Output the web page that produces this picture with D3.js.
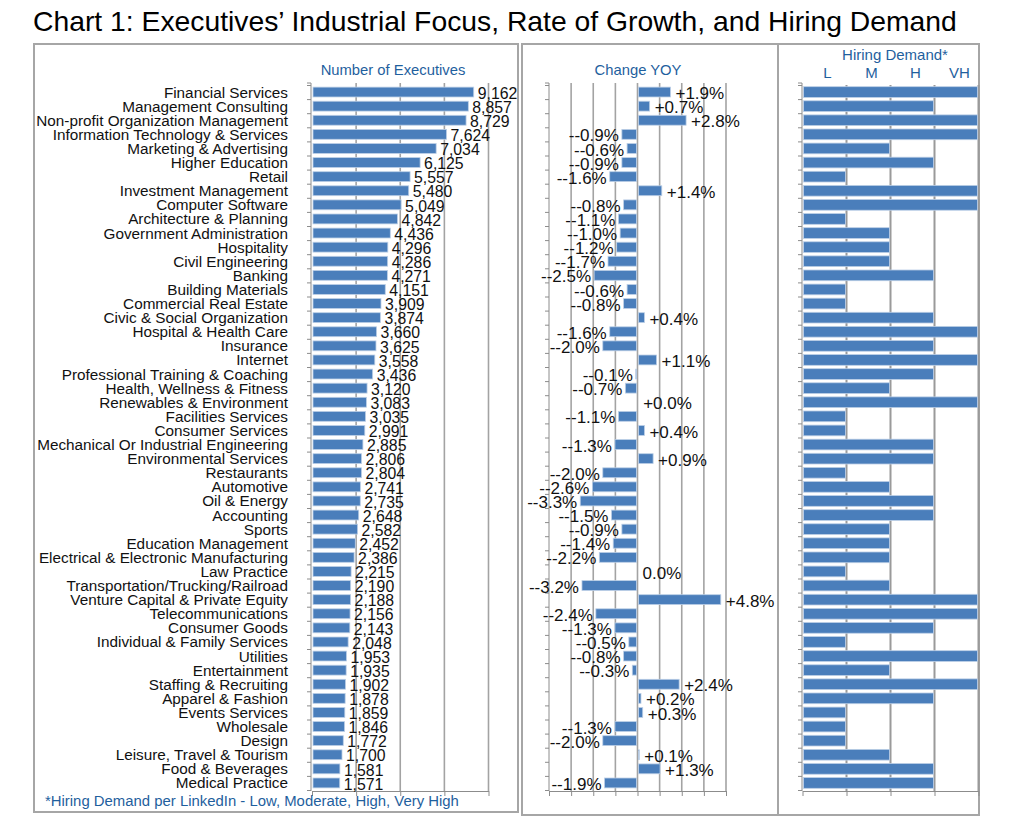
<!DOCTYPE html>
<html><head><meta charset="utf-8">
<script src="https://cdn.jsdelivr.net/npm/d3@7"></script>
<style>
body{margin:0;background:#fff}
text{font-family:"Liberation Sans",Arial,Helvetica,sans-serif}
</style>
</head><body>
<svg id="c" width="1024" height="823"></svg>
<script>
const industries = [
 "Financial Services","Management Consulting","Non-profit Organization Management","Information Technology & Services",
 "Marketing & Advertising","Higher Education","Retail","Investment Management","Computer Software","Architecture & Planning",
 "Government Administration","Hospitality","Civil Engineering","Banking","Building Materials","Commercial Real Estate",
 "Civic & Social Organization","Hospital & Health Care","Insurance","Internet","Professional Training & Coaching",
 "Health, Wellness & Fitness","Renewables & Environment","Facilities Services","Consumer Services",
 "Mechanical Or Industrial Engineering","Environmental Services","Restaurants","Automotive","Oil & Energy","Accounting",
 "Sports","Education Management","Electrical & Electronic Manufacturing","Law Practice","Transportation/Trucking/Railroad",
 "Venture Capital & Private Equity","Telecommunications","Consumer Goods","Individual & Family Services","Utilities",
 "Entertainment","Staffing & Recruiting","Apparel & Fashion","Events Services","Wholesale","Design",
 "Leisure, Travel & Tourism","Food & Beverages","Medical Practice"];
const executives = [9162,8857,8729,7624,7034,6125,5557,5480,5049,4842,4436,4296,4286,4271,4151,3909,3874,3660,3625,3558,
 3436,3120,3083,3035,2991,2885,2806,2804,2741,2735,2648,2582,2452,2386,2215,2190,2188,2156,2143,2048,1953,1935,1902,1878,
 1859,1846,1772,1700,1581,1571];
const changeYOY = [1.9,0.7,2.8,-0.9,-0.6,-0.9,-1.6,1.4,-0.8,-1.1,-1.0,-1.2,-1.7,-2.5,-0.6,-0.8,0.4,-1.6,-2.0,1.1,
 -0.1,-0.7,0.04,-1.1,0.4,-1.3,0.9,-2.0,-2.6,-3.3,-1.5,-0.9,-1.4,-2.2,0.0,-3.2,4.8,-2.4,-1.3,-0.5,-0.8,-0.3,2.4,0.2,
 0.3,-1.3,-2.0,0.1,1.3,-1.9];
const hiringDemand = ["VH","H","VH","VH","M","H","L","VH","VH","L","M","M","M","H","L","L","H","VH","H","VH",
 "H","M","VH","L","L","H","H","L","M","H","H","M","M","M","L","M","VH","VH","H","L","VH","M","VH","H","L","L","L","M","H","H"];
const demandLevels = ["L","M","H","VH"];
const execTicks = [0,2500,5000,7500,10000];
const changeDomain = [-5.1,5.1];

const svg = d3.select("#c");
const BLUE_TXT = "#1f5f9e", BAR = "#4a7ebb", BAR_STROKE = "#bccfe6", GRID = "#a3a3a3", AXIS = "#8c8c8c", BORDER = "#a6a6a6";

// title
const title = svg.append("text").attr("x",33).attr("y",31).attr("font-size",25).attr("fill","#000")
  .text("Chart 1: Executives\u2019 Industrial Focus, Rate of Growth, and Hiring Demand");
const tl = title.node().getComputedTextLength();
title.attr("font-size", 25*924/tl);

// panel borders
[[34,44,484,768],[522,44,256,771],[778,44,201,771]].forEach(([x,y,w,h])=>{
  svg.append("rect").attr("x",x).attr("y",y).attr("width",w).attr("height",h)
    .attr("fill","none").attr("stroke",BORDER).attr("stroke-width",2);
});

const TOP = 85, BOT = 790, AX_BOT = 791;
const yBand = d3.scaleBand().domain(industries).range([TOP,BOT]).padding(0);
const step = yBand.step();
const yIdx = d3.scaleLinear().domain([0,industries.length]).range([TOP,BOT]);

function leftAxis(x){
  const g = svg.append("g").attr("transform",`translate(${x},0)`)
    .call(d3.axisLeft(yIdx).tickValues(d3.range(industries.length+1)).tickSize(4).tickSizeOuter(4).tickFormat(""));
  g.select(".domain").attr("stroke",AXIS).attr("d",`M-4,${TOP-2}H0V${AX_BOT}`);
  g.selectAll(".tick line").attr("stroke",AXIS);
  return g;
}
function bottomAxis(scale, ticks){
  const g = svg.append("g").attr("transform",`translate(0,${AX_BOT})`)
    .call(d3.axisBottom(scale).tickValues(ticks).tickSize(5).tickSizeOuter(0).tickFormat(""));
  g.select(".domain").attr("stroke",AXIS);
  g.selectAll(".tick line").attr("stroke",AXIS);
}

// ---------- Panel 1 ----------
const x1 = d3.scaleLinear().domain([0,10000]).range([312,488.5]);
svg.append("g").selectAll("line").data(execTicks.slice(1)).join("line")
  .attr("x1",d=>x1(d)).attr("x2",d=>x1(d)).attr("y1",TOP-2).attr("y2",AX_BOT)
  .attr("stroke",GRID).attr("stroke-width",1.6);
bottomAxis(x1, execTicks);
svg.append("g").selectAll("rect").data(industries).join("rect")
  .attr("x",x1(0)+1).attr("y",d=>yBand(d)+step*0.15).attr("height",step*0.7)
  .attr("width",(d,i)=>x1(executives[i])-x1(0)-1)
  .attr("fill",BAR).attr("stroke",BAR_STROKE).attr("stroke-width",0.8);
leftAxis(311);
svg.append("g").selectAll("text").data(industries).join("text")
  .attr("x",288).attr("y",d=>yBand(d)+step/2).attr("dy","0.36em").attr("text-anchor","end")
  .attr("font-size",15.3).attr("fill","#111").text(d=>d);
svg.append("g").selectAll("text").data(industries).join("text")
  .attr("x",(d,i)=>x1(executives[i])+4).attr("y",d=>yBand(d)+step/2+1).attr("dy","0.36em")
  .attr("font-size",15.8).attr("fill","#111").text((d,i)=>d3.format(",")(executives[i]));
svg.append("text").attr("x",393).attr("y",75).attr("text-anchor","middle").attr("font-size",14.8)
  .attr("fill",BLUE_TXT).text("Number of Executives");
svg.append("text").attr("x",45).attr("y",806).attr("font-size",14.9)
  .attr("fill",BLUE_TXT).text("*Hiring Demand per LinkedIn - Low, Moderate, High, Very High");

// ---------- Panel 2 ----------
const x2 = d3.scaleLinear().domain(changeDomain).range([549,726]);
const chTicks = d3.range(-4,5).map(i=>i*changeDomain[1]/4);
svg.append("g").selectAll("line").data(chTicks.slice(1)).join("line")
  .attr("x1",d=>x2(d)).attr("x2",d=>x2(d)).attr("y1",TOP-2).attr("y2",AX_BOT)
  .attr("stroke",GRID).attr("stroke-width",1.6);
bottomAxis(x2, chTicks);
svg.append("g").selectAll("rect").data(industries).join("rect")
  .attr("x",(d,i)=>Math.min(x2(0),x2(changeYOY[i]))+ (changeYOY[i]>=0?1:0))
  .attr("y",d=>yBand(d)+step*0.15).attr("height",step*0.7)
  .attr("width",(d,i)=>Math.max(0,Math.abs(x2(changeYOY[i])-x2(0))-1))
  .attr("fill",BAR).attr("stroke",BAR_STROKE).attr("stroke-width",0.8);
leftAxis(549);
const fmtChange = v => v>0 ? "+"+v.toFixed(1)+"%" : v<0 ? "--"+(-v).toFixed(1)+"%" : "0.0%";
svg.append("g").selectAll("text").data(industries).join("text")
  .attr("x",(d,i)=>changeYOY[i]<0 ? x2(changeYOY[i])-3 : x2(changeYOY[i])+5)
  .attr("text-anchor",(d,i)=>changeYOY[i]<0?"end":"start")
  .attr("y",d=>yBand(d)+step/2+1).attr("dy","0.36em")
  .attr("font-size",17).attr("fill","#111").text((d,i)=>fmtChange(changeYOY[i]));
svg.append("text").attr("x",638).attr("y",75).attr("text-anchor","middle").attr("font-size",14.8)
  .attr("fill",BLUE_TXT).text("Change YOY");

// ---------- Panel 3 ----------
const x3 = d3.scaleLinear().domain([0,demandLevels.length]).range([802.5,978.5]);
const dTicks = d3.range(0,demandLevels.length+1);
svg.append("g").selectAll("line").data(dTicks.slice(1)).join("line")
  .attr("x1",d=>x3(d)).attr("x2",d=>x3(d)).attr("y1",TOP).attr("y2",AX_BOT)
  .attr("stroke","#9a9a9a").attr("stroke-width",2);
bottomAxis(x3, dTicks);
svg.append("g").selectAll("rect").data(industries).join("rect")
  .attr("x",x3(0)+1).attr("y",d=>yBand(d)+step*0.12).attr("height",step*0.76)
  .attr("width",(d,i)=>x3(demandLevels.indexOf(hiringDemand[i])+1)-x3(0)-2)
  .attr("fill",BAR).attr("stroke",BAR_STROKE).attr("stroke-width",0.8);
leftAxis(802);
svg.append("text").attr("x",895).attr("y",60).attr("text-anchor","middle").attr("font-size",15)
  .attr("fill",BLUE_TXT).text("Hiring Demand*");
svg.append("g").selectAll("text").data(demandLevels).join("text")
  .attr("x",(d,i)=>x3(i+0.5)+3).attr("y",77.5).attr("text-anchor","middle").attr("font-size",15)
  .attr("fill",BLUE_TXT).text(d=>d);
</script>
</body></html>
